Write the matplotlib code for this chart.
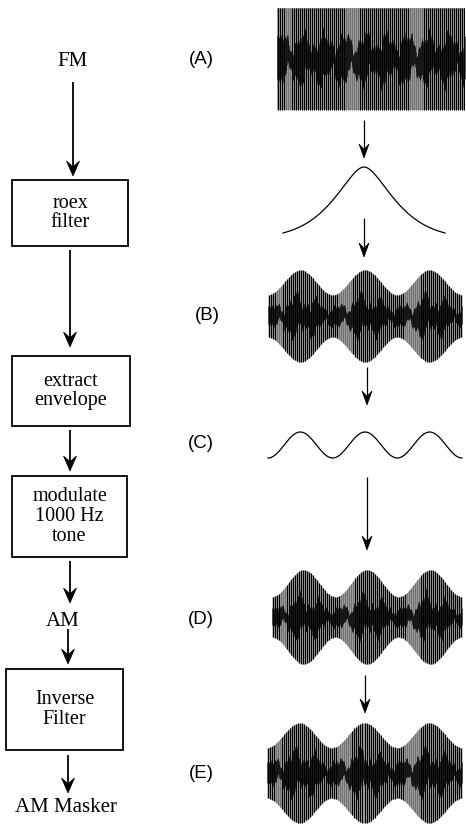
import numpy as np
import matplotlib
matplotlib.use("Agg")
import matplotlib.pyplot as plt
from matplotlib.patches import Rectangle, Polygon

# ---- content ----
box_labels = ["roex\nfilter", "extract\nenvelope", "modulate\n1000 Hz\ntone", "Inverse\nFilter"]
flow_labels = ["FM", "AM", "AM Masker"]
panel_labels = ["(A)", "(B)", "(C)", "(D)", "(E)"]

# waveform descriptors
env_cycles = 3                              # envelope periods across each panel
mod_depth = [0.0, 0.37, 1.0, 0.40, 0.33]    # A..E
stripe_period = 2.0                         # px between carrier stripes
texture_rates = [9.0, 21.0, 53.0]           # inner dark texture rates
texture_amps = [0.15, 0.09, 0.06]
texture_base = 0.32

W, H = 466, 827
fig = plt.figure(figsize=(W / 100, H / 100), dpi=100)
ax = fig.add_axes([0, 0, 1, 1])
ax.set_xlim(0, W)
ax.set_ylim(H, 0)
ax.axis("off")

serif = ["Liberation Serif", "DejaVu Serif"]
sans = ["Liberation Sans", "DejaVu Sans"]


def arrow(x, y0, y1, lw=1.3, hw=13, hl=15, color="black"):
    ax.plot([x, x], [y0, y1 - hl * 0.6], color=color, lw=lw, solid_capstyle="butt")
    pts = [(x, y1), (x - hw / 2, y1 - hl), (x, y1 - hl * 0.62), (x + hw / 2, y1 - hl)]
    ax.add_patch(Polygon(pts, closed=True, fc="black", ec="black", lw=0.5))


def box(x0, y0, x1, y1, text, ty=None):
    ax.add_patch(Rectangle((x0, y0), x1 - x0, y1 - y0, fill=False, ec="black", lw=1.3))
    ax.text((x0 + x1) / 2, (y0 + y1) / 2 if ty is None else ty, text, ha="center", va="center",
            family=serif, fontsize=14.5, linespacing=1.05)


# ---- left flow chart ----
ax.text(73, 62, flow_labels[0], ha="center", va="center", family=serif, fontsize=15)
arrow(73, 82, 176)
box(12, 180, 128, 246, box_labels[0])
arrow(70, 250, 347)
box(12, 356, 130, 426, box_labels[1])
arrow(70, 430, 471)
box(12, 476, 127, 557, box_labels[2])
arrow(70, 561, 603)
ax.text(63, 622, flow_labels[1], ha="center", va="center", family=serif, fontsize=15)
arrow(68, 629, 664)
box(6, 669, 123, 750, box_labels[3])
arrow(68, 755, 793)
ax.text(66, 808, flow_labels[2], ha="center", va="center", family=serif, fontsize=15)

# ---- panel labels ----
for lab, (lx, ly) in zip(panel_labels, [(201, 60), (207, 316), (201, 443), (201, 620), (201, 774)]):
    ax.text(lx, ly, lab, ha="center", va="center", family=sans, fontsize=13.5)


# ---- waveforms ----
def envelope(t, depth):
    return (1 - depth * np.cos(2 * np.pi * env_cycles * t)) / (1 + depth)


def wave(x0, x1, yc, amax, depth):
    # grey body
    tf = np.linspace(0, 1, 400)
    ef = envelope(tf, depth)
    xf = x0 + (x1 - x0) * tf
    ax.fill_between(xf, yc - amax * ef, yc + amax * ef, color="0.62", lw=0)
    # carrier stripes
    n = int((x1 - x0) / stripe_period)
    t = (np.arange(n) + 0.5) / n
    env = envelope(t, depth)
    x = x0 + (x1 - x0) * t
    grey = np.sin(2 * np.pi * 4.3 * t + 0.4) * np.sin(2 * np.pi * 1.7 * t) > 0.45
    cols = np.where(grey, "0.45", "black")
    ax.vlines(x, yc - amax * env, yc + amax * env, colors=cols, lw=0.8)
    # inner dark texture
    m = int(x1 - x0) * 2
    tt = np.linspace(0, 1, m)
    ee = envelope(tt, depth)
    tex_hi = texture_base + sum(a * np.sin(2 * np.pi * r * tt + k) for k, (a, r) in enumerate(zip(texture_amps, texture_rates)))
    tex_lo = texture_base + sum(a * np.sin(2 * np.pi * r * tt + 2.1 * k + 1.3) for k, (a, r) in enumerate(zip(texture_amps, texture_rates)))
    xx = x0 + (x1 - x0) * tt
    ax.vlines(xx, yc - amax * ee * tex_hi, yc + amax * ee * tex_lo, colors="black", lw=0.5, alpha=0.85)


wave(277, 465, 59, 51, mod_depth[0])
arrow(364, 120, 158, lw=0.9, hw=10, hl=14)

# roex filter shape
fx = np.linspace(-1, 1, 300)
p = 4.0
g = (1 + p * np.abs(fx)) * np.exp(-p * np.abs(fx))
ax.plot(283 + (fx + 1) / 2 * (445 - 283), 233 - (g - g.min()) / (1 - g.min()) * (233 - 167),
        color="black", lw=0.9)
arrow(364, 218, 257, lw=0.9, hw=10, hl=14)

wave(268, 462, 316, 46, mod_depth[1])
arrow(367, 367, 405, lw=0.9, hw=10, hl=14)

cx = np.linspace(0, 1, 600)
ax.plot(268 + cx * (462 - 268), 445 + 13 * np.cos(2 * np.pi * env_cycles * cx), color="black", lw=0.9)
arrow(367, 477, 550, lw=0.9, hw=10, hl=14)

wave(272, 462, 617, 47, mod_depth[3])
arrow(365, 675, 713, lw=0.9, hw=10, hl=14)
wave(267, 462, 773, 50, mod_depth[4])

fig.savefig("out.png", dpi=100)
